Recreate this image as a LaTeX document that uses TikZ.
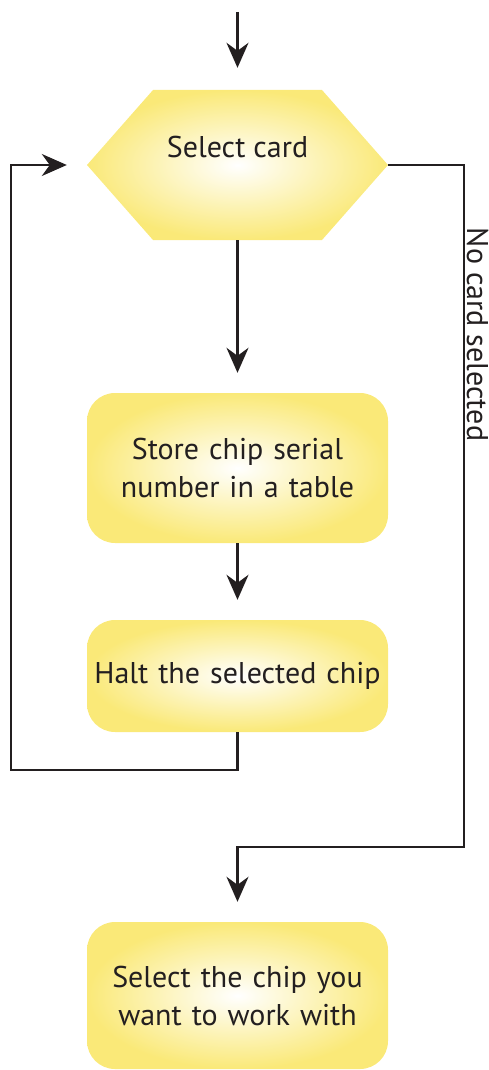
\documentclass[tikz,border=0pt]{standalone}
\usepackage{fontspec}
\setmainfont{PT Sans}
\usetikzlibrary{arrows.meta}
\definecolor{boxyellow}{RGB}{250,233,120}
\definecolor{ink}{RGB}{35,31,32}
\begin{document}
\begin{tikzpicture}[x=1pt,y=-1pt,
  txt/.style={font=\fontsize{30}{38}\selectfont, text=ink},
  fillshade/.style={inner color=white, outer color=boxyellow},
  box/.style={txt, fillshade, shade, rounded corners=28pt, minimum width=301pt,
    text width=295pt, align=center, inner sep=0pt},
  hexbox/.style={minimum width=301pt, minimum height=150pt, inner sep=0pt},
  line/.style={draw=ink, line width=2.2pt},
  arr/.style={line, -{Stealth[length=25pt,width=22pt,inset=8pt]}, shorten >=20pt}
]
\useasboundingbox (0,0) rectangle (489,1070);
% hexagon shape
\shade[fillshade] (87,165) -- (153,90) -- (322,90) -- (388,165) -- (322,240) -- (153,240) -- cycle;
\node[hexbox, label={[txt, yshift=18pt]center:Select card}] (hex) at (237.5,165) {};
\node[box, minimum height=150pt] (store) at (237.5,468) {Store chip serial\\number in a table};
\node[box, minimum height=112pt] (halt) at (237.5,676) {Halt the selected chip};
\node[box, minimum height=147pt] (sel) at (237.5,995.5) {Select the chip you\\want to work with};
\coordinate (start) at (237.5,12);
\coordinate (loopL) at (11,770);
\coordinate (noR) at (464,847);
% connectors
\draw[arr, shorten >=22pt] (start) -- (hex.north);
\draw[arr] (hex.south) -- (store.north);
\draw[arr] (store.south) -- (halt.north);
\draw[arr] (halt.south) |- (loopL) |- (hex.west);
\draw[arr] (hex.east) -| (noR) -| (sel.north);
\node[txt, rotate=-90, anchor=base, inner sep=0pt] (nolabel) at (467,334.5) {No card selected};
\end{tikzpicture}
\end{document}
